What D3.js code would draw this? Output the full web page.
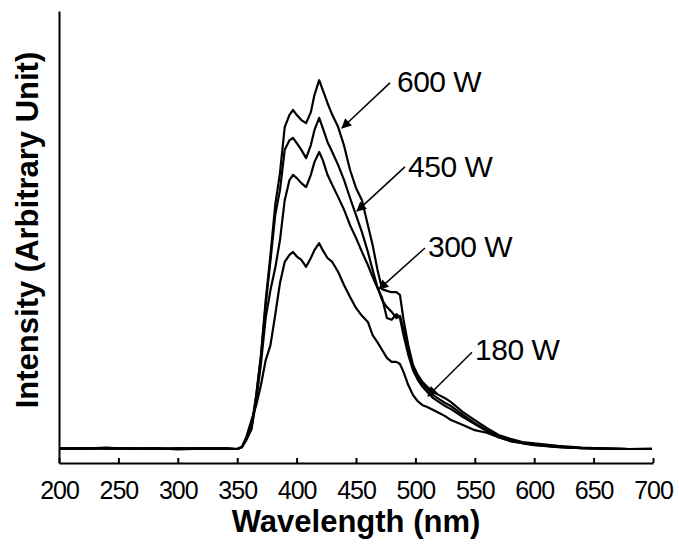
<!DOCTYPE html>
<html>
<head>
<meta charset="utf-8">
<script src="https://cdn.jsdelivr.net/npm/d3@7"></script>
<style>
  body { margin: 0; background: #fff; }
  svg { display: block; }
  .line { fill: none; stroke: #000; stroke-width: 2.2; stroke-linejoin: round; }
  .axis path, .axis line { stroke: #000; stroke-width: 2; }
  .axis text { font-family: "Liberation Sans", Arial, sans-serif; font-size: 25px; fill: #000; letter-spacing: -1px; }
  .title { font-family: "Liberation Sans", Arial, sans-serif; font-weight: bold; font-size: 31px; fill: #000; }
  .lbl { font-family: "Liberation Sans", Arial, sans-serif; font-size: 30px; fill: #000; letter-spacing: -0.5px; }
</style>
</head>
<body>
<svg width="679" height="544"></svg>
<script>
// emission spectra
var wavelength = [200, 220, 240, 260, 280, 300, 320, 340,
  350, 354, 358, 362, 366, 370, 374, 378, 382, 386,
  390, 394, 397, 400, 404, 408, 412, 415, 419, 422, 426, 430, 435, 440, 445, 450, 455, 460, 464, 468,
  472, 476, 480, 484, 487, 490, 494, 498, 502, 506, 510, 515, 520, 525, 530,
  540, 550, 560, 570, 580, 590, 600, 620, 640, 660, 680, 699];

var w600 = [0.2, 0.1, 0.3, 0.0, 0.2, -0.1, 0.1, 0.2,
  0, 0.5, 2.5, 5.0, 12.3, 21.5, 34, 44.3, 55.7, 63.0,
  73.5, 76.3, 77.4, 76.3, 75.1, 74.4, 76.9, 80.8, 84.2, 82, 79, 76.3, 73.5, 69.2, 63.7, 59.6, 56.8, 51.1, 46.6, 41,
  36.5, 36.1, 35.8, 35.8, 35.2, 29.5, 23.7, 19.2, 16.9, 15.3, 14.2, 13.0, 12.3, 11.6, 10.7,
  8.4, 6.6, 4.8, 3.2, 2.3, 1.6, 1.3, 0.7, 0.3, 0.1, 0.0, 0.1];

var w450 = [0.1, 0.2, 0.1, 0.2, 0.0, 0.1, 0.2, 0.1,
  0, 0.5, 2.4, 4.8, 12, 21, 33, 43, 53.4, 59.1,
  68.3, 70.5, 71, 69.9, 68.3, 66.4, 69.4, 72.8, 75.6, 73.3, 70.1, 67.8, 64.8, 61.4, 57.3, 53.4, 49.5, 45, 40.9, 37,
  34, 32.4, 31.3, 29.9, 30.4, 27.2, 22.6, 18.7, 16.4, 14.8, 13.7, 12.3, 11.4, 10.5, 9.8,
  7.8, 5.9, 4.3, 3.0, 2.1, 1.4, 1.0, 0.5, 0.2, 0.1, 0.0, 0.0];

var w300 = [0.0, 0.2, 0.1, 0.1, 0.2, 0.0, 0.1, 0.0,
  0, 0.4, 2.2, 4.5, 11, 19.5, 30, 36.3, 41.3, 47.7,
  56.8, 61.4, 62.6, 61.9, 60.7, 59.8, 62.6, 65.5, 67.8, 66, 62.6, 60.3, 57.5, 54.6, 51.1, 48.2, 45, 42, 39.3, 36.8,
  34.5, 29.9, 29.5, 30.8, 29.9, 26, 21.5, 18, 15.8, 14.2, 13, 11.6, 10.7, 9.8, 9.1,
  7.3, 5.7, 4.1, 2.7, 1.8, 1.3, 0.9, 0.4, 0.2, 0.1, 0.0, 0.0];

var w180 = [0.1, 0.0, 0.2, 0.1, 0.0, 0.2, 0.1, 0.1,
  0, 0.4, 3, 6.6, 10, 14.6, 20.3, 23.7, 30.6, 37.9,
  42.7, 44.3, 45, 44, 43.2, 41.6, 43.6, 45.4, 47, 45.4, 43.6, 42.7, 40.4, 37.4, 34.7, 32.2, 30.4, 29.0, 26.0, 24.4,
  22.6, 20.8, 19.9, 19.9, 19.4, 17.6, 14.6, 12.3, 10.9, 10.0, 9.6, 8.9, 8.2, 7.5, 6.6,
  5.5, 4.3, 3.7, 2.7, 1.8, 1.4, 1.0, 0.5, 0.2, 0.1, 0.0, 0.0];

var xTicks = [200, 250, 300, 350, 400, 450, 500, 550, 600, 650, 700];

// annotation text + arrow (tail, tip) in data units
var labelText = ["600 W", "450 W", "300 W", "180 W"];
var labelPos = [[484.5, 81.5], [493.8, 62.1], [510.6, 43.8], [550.2, 20.3]];
var arrowFrom = [[478.6, 83.6], [491.2, 64.4], [508.1, 45.9], [547.6, 22.1]];
var arrowTo = [[438.2, 73.3], [450.8, 54.3], [469.4, 36.5], [510.6, 12.1]];

var svg = d3.select("svg");
var mLeft = 59, mRight = 653, mTop = 11, mBottom = 463;

var x = d3.scaleLinear().domain([200, 700]).range([mLeft, mRight]);
var y = d3.scaleLinear().domain([-3.2, 100]).range([mBottom, mTop]);

svg.append("defs").append("marker")
    .attr("id", "head")
    .attr("viewBox", "0 0 10 10")
    .attr("refX", 9).attr("refY", 5)
    .attr("markerWidth", 14).attr("markerHeight", 10)
    .attr("markerUnits", "userSpaceOnUse")
    .attr("orient", "auto")
  .append("path")
    .attr("d", "M0,0L10,5L0,10Z")
    .attr("fill", "#000");

// x axis, ticks pointing inward
svg.append("g")
    .attr("class", "axis")
    .attr("transform", "translate(0," + mBottom + ")")
    .call(d3.axisBottom(x).tickValues(xTicks).tickSizeInner(-5).tickSizeOuter(0).tickPadding(18))
    .call(function(g) { g.selectAll("text").attr("dy", "0.71em"); });

// y axis: plain line, no ticks
svg.append("g")
    .attr("class", "axis")
    .attr("transform", "translate(" + mLeft + ",0)")
    .call(d3.axisLeft(y).tickValues([]).tickSizeOuter(0));

var series = [w600, w450, w300, w180];
var line = d3.line()
    .x(function(d, i) { return x(wavelength[i]); })
    .y(function(d) { return y(d); });

svg.append("g").selectAll("path")
  .data(series)
  .enter().append("path")
    .attr("class", "line")
    .attr("d", line);

var ann = svg.append("g");
ann.selectAll("line")
  .data(labelText)
  .enter().append("line")
    .attr("x1", function(d, i) { return x(arrowFrom[i][0]); })
    .attr("y1", function(d, i) { return y(arrowFrom[i][1]); })
    .attr("x2", function(d, i) { return x(arrowTo[i][0]); })
    .attr("y2", function(d, i) { return y(arrowTo[i][1]); })
    .attr("stroke", "#000")
    .attr("stroke-width", 1.5)
    .attr("marker-end", "url(#head)");

ann.selectAll("text")
  .data(labelText)
  .enter().append("text")
    .attr("class", "lbl")
    .attr("x", function(d, i) { return x(labelPos[i][0]); })
    .attr("y", function(d, i) { return y(labelPos[i][1]); })
    .text(function(d) { return d; });

svg.append("text")
    .attr("class", "title")
    .attr("x", (mLeft + mRight) / 2)
    .attr("y", 532)
    .attr("text-anchor", "middle")
    .text("Wavelength (nm)");

svg.append("text")
    .attr("class", "title")
    .attr("transform", "translate(38,230) rotate(-90)")
    .attr("text-anchor", "middle")
    .text("Intensity (Arbitrary Unit)");
</script>
</body>
</html>
